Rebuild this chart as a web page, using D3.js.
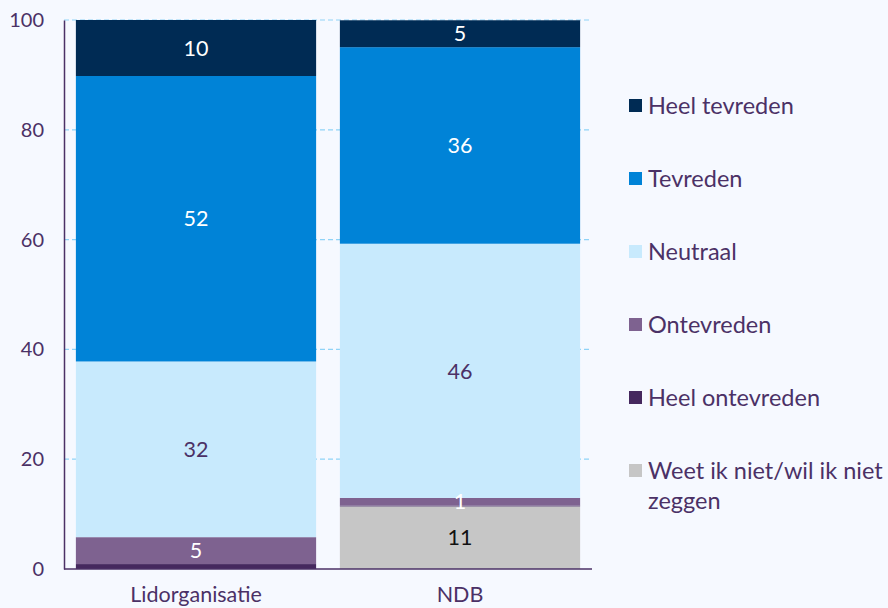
<!DOCTYPE html>
<html><head><meta charset="utf-8">
<script src="https://cdn.jsdelivr.net/npm/d3@7"></script>
<style>
html,body{margin:0;padding:0;background:#f6f9ff;}
svg{display:block;font-family:Lato,"Noto Sans",sans-serif;}
</style></head>
<body><svg id="c" width="888" height="608"></svg>
<script>
const categories = ["Lidorganisatie", "NDB"];
const seriesNames = ["Weet ik niet/wil ik niet zeggen", "Heel ontevreden", "Ontevreden", "Neutraal", "Tevreden", "Heel tevreden"];
const weetIkNiet     = [0, 11.4];
const heelOntevreden = [0.9, 0.15];
const ontevreden     = [4.9, 1.4];
const neutraal       = [32.0, 46.3];
const tevreden       = [52.0, 35.8];
const heelTevreden   = [10.2, 4.9];
const yTicks = [0, 20, 40, 60, 80, 100];
const legendOrder = ["Heel tevreden", "Tevreden", "Neutraal", "Ontevreden", "Heel ontevreden", "Weet ik niet/wil ik niet zeggen"];

const colors = {
  "Weet ik niet/wil ik niet zeggen": "#c6c6c6",
  "Heel ontevreden": "#45285e",
  "Ontevreden": "#7e6290",
  "Neutraal": "#c8eafd",
  "Tevreden": "#0083d7",
  "Heel tevreden": "#002b54"
};
const labelColors = {
  "Weet ik niet/wil ik niet zeggen": "#111111",
  "Heel ontevreden": "#ffffff",
  "Ontevreden": "#ffffff",
  "Neutraal": "#4b3166",
  "Tevreden": "#ffffff",
  "Heel tevreden": "#ffffff"
};
const seriesData = [weetIkNiet, heelOntevreden, ontevreden, neutraal, tevreden, heelTevreden];
const table = categories.map((c, i) => {
  const row = {cat: c};
  seriesNames.forEach((s, j) => row[s] = seriesData[j][i]);
  return row;
});

const svg = d3.select("#c");
const m = {left: 64, right: 296, top: 20, bottom: 39};
const W = 888, H = 608;
const x = d3.scaleBand().domain(categories).range([m.left, W - m.right]).paddingInner(0.09).paddingOuter(0.045);
const y = d3.scaleLinear().domain([0, 100]).range([H - m.bottom, m.top]);
const textCol = "#4b3166";

// gridlines
svg.append("g").selectAll("line").data(yTicks.filter(d => d > 0)).join("line")
  .attr("x1", m.left).attr("x2", W - m.right)
  .attr("y1", d => y(d)).attr("y2", d => y(d))
  .attr("stroke", "#8fd3f7").attr("stroke-width", 1.2).attr("stroke-dasharray", "5,3");

const stack = d3.stack().keys(seriesNames)(table);
const g = svg.append("g");
stack.forEach(layer => {
  g.selectAll(null).data(layer).join("rect")
    .attr("x", d => x(d.data.cat)).attr("width", x.bandwidth())
    .attr("y", d => y(d[1])).attr("height", d => y(d[0]) - y(d[1]))
    .attr("fill", colors[layer.key]);
});
stack.forEach(layer => {
  g.selectAll(null).data(layer.filter(d => d[1] - d[0] >= 1)).join("text")
    .attr("x", d => x(d.data.cat) + x.bandwidth() / 2)
    .attr("y", d => y((d[0] + d[1]) / 2))
    .attr("dy", "0.36em").attr("text-anchor", "middle")
    .attr("font-size", 21.5).attr("fill", labelColors[layer.key])
    .text(d => Math.round(d[1] - d[0]));
});

// axes
const yAxis = d3.axisLeft(y).tickValues(yTicks).tickSize(0).tickPadding(20);
const ya = svg.append("g").attr("transform", `translate(${m.left},0)`).call(yAxis);
ya.select(".domain").attr("stroke", textCol).attr("stroke-width", 1.5);
ya.selectAll("text").attr("font-size", 20).attr("fill", textCol).attr("font-family", "Lato");

const xAxis = d3.axisBottom(x).tickSize(0).tickPadding(18);
const xa = svg.append("g").attr("transform", `translate(0,${H - m.bottom})`).call(xAxis);
xa.select(".domain").attr("stroke", textCol).attr("stroke-width", 1.5)
  .attr("d", `M${m.left},0H${W - m.right}`);
xa.selectAll("text").attr("font-size", 21.5).attr("fill", textCol).attr("font-family", "Lato");

// legend
const lg = svg.append("g").attr("transform", "translate(629,99)");
legendOrder.forEach((name, i) => {
  const row = lg.append("g").attr("transform", `translate(0,${i * 73})`);
  row.append("rect").attr("width", 13).attr("height", 13).attr("fill", colors[name]);
  const t = row.append("text").attr("x", 19).attr("y", 15).attr("font-size", 23.5).attr("fill", textCol);
  if (name.startsWith("Weet")) {
    t.append("tspan").attr("x", 19).text("Weet ik niet/wil ik niet");
    t.append("tspan").attr("x", 19).attr("dy", 30).text("zeggen");
  } else t.text(name);
});
</script></body></html>
